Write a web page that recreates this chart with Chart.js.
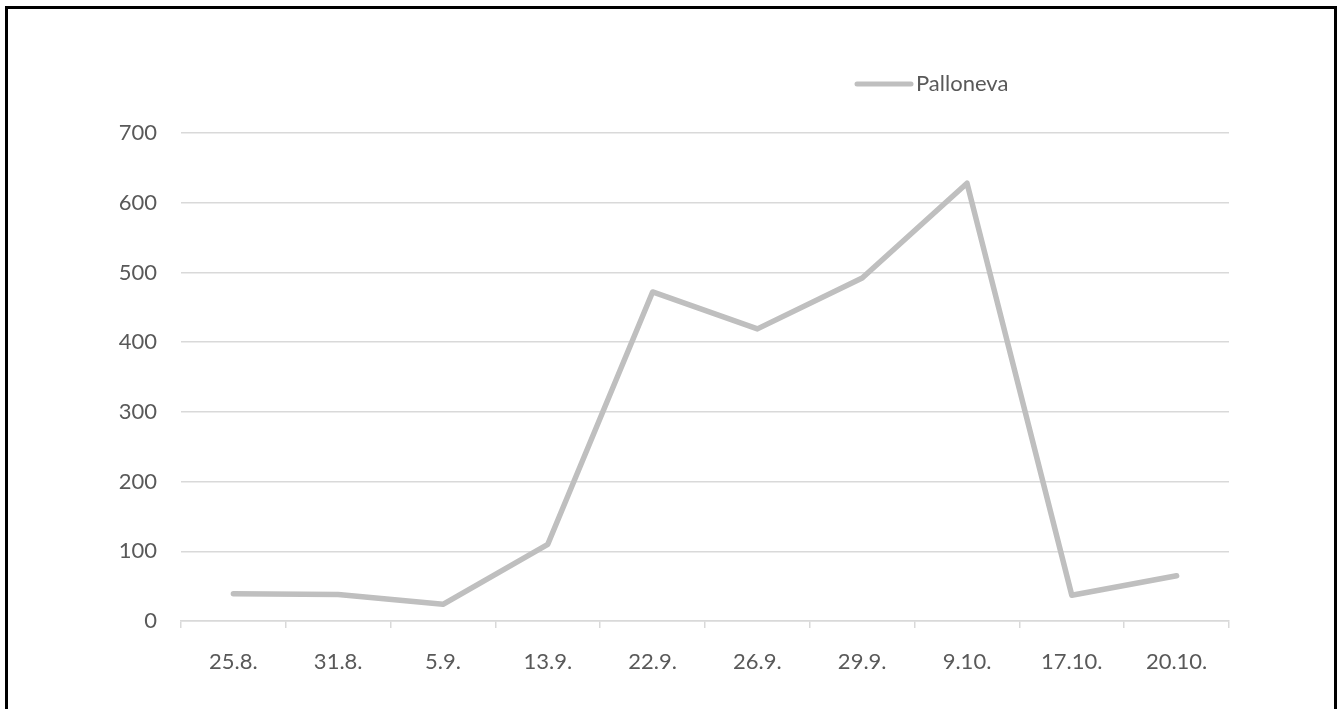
<!DOCTYPE html>
<html>
<head>
<meta charset="utf-8">
<script src="https://cdn.jsdelivr.net/npm/chart.js@4/dist/chart.umd.min.js"></script>
<style>
  html, body { margin: 0; padding: 0; background: #fff; overflow: hidden; }
  #wrap { position: absolute; left: 0; top: 0; width: 1343px; height: 709px; }
  #frame {
    position: absolute; left: 5px; top: 6px; width: 1332px; height: 720px;
    border: 3px solid #000; box-sizing: border-box; pointer-events: none;
  }
</style>
</head>
<body>
<div id="wrap"><canvas id="lineChart" width="1343" height="709"></canvas></div>
<div id="frame"></div>
<script>
// data
const labels = ['25.8.', '31.8.', '5.9.', '13.9.', '22.9.', '26.9.', '29.9.', '9.10.', '17.10.', '20.10.'];
const palloneva = [39, 38, 24, 110, 472, 419, 492, 628, 37, 65];
const seriesName = 'Palloneva';
const yTicks = [0, 100, 200, 300, 400, 500, 600, 700];

const textColor = '#595959';
const gridColor = '#d9d9d9';
const lineColor = '#bfbfbf';

Chart.defaults.font.family = 'Lato';
Chart.defaults.font.size = 22;
Chart.defaults.color = textColor;

// simple legend drawn above the plot, right of centre like the Excel original
const legendPlugin = {
    id: 'sideLegend',
    afterDraw(chart) {
        const c = chart.ctx;
        const ds = chart.data.datasets[0];
        const x0 = 857, y0 = 84;
        c.save();
        c.strokeStyle = ds.borderColor;
        c.lineWidth = 5;
        c.lineCap = 'round';
        c.beginPath();
        c.moveTo(x0, y0);
        c.lineTo(x0 + 54, y0);
        c.stroke();
        c.fillStyle = textColor;
        c.font = '22px Lato';
        c.textBaseline = 'middle';
        c.textAlign = 'left';
        c.fillText(ds.label, x0 + 59, y0);
        c.restore();
    }
};

new Chart(document.getElementById('lineChart'), {
    type: 'line',
    data: {
        labels: labels,
        datasets: [{
            label: seriesName,
            data: palloneva,
            borderColor: lineColor,
            borderWidth: 5.5,
            borderCapStyle: 'round',
            borderJoinStyle: 'round',
            pointRadius: 0,
            pointHoverRadius: 0,
            fill: false,
            tension: 0
        }]
    },
    options: {
        responsive: false,
        animation: false,
        layout: { padding: { left: 0, right: 114, top: 133, bottom: 0 } },
        plugins: {
            legend: { display: false },
            tooltip: { enabled: false }
        },
        scales: {
            x: {
                offset: true,
                grid: { offset: true, drawOnChartArea: false, tickLength: 7, color: gridColor, lineWidth: 1.5 },
                border: { color: gridColor, width: 1.5 },
                ticks: { padding: 21, color: textColor, maxRotation: 0 },
                afterFit(scale) { scale.height = 88; }
            },
            y: {
                min: 0,
                max: 700,
                afterBuildTicks(scale) { scale.ticks = yTicks.map(v => ({ value: v })); },
                grid: { color: gridColor, lineWidth: 1.5, drawTicks: false },
                border: { display: false },
                ticks: { padding: 24, color: textColor },
                afterFit(scale) { scale.width = 181; }
            }
        }
    },
    plugins: [legendPlugin]
});
</script>
</body>
</html>
